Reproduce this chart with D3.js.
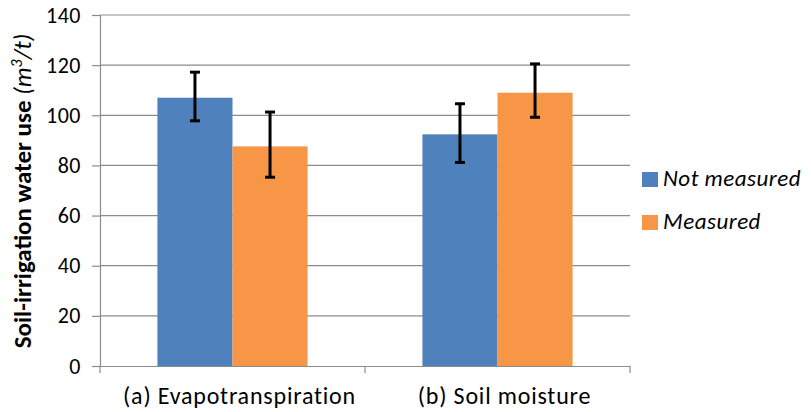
<!DOCTYPE html>
<html><head><meta charset="utf-8">
<script src="https://cdn.jsdelivr.net/npm/d3@7"></script>
<style>body{margin:0;background:#fff;} svg{display:block;}</style>
</head><body>
<svg id="c" width="811" height="412"></svg>
<script>
const categories = ["(a) Evapotranspiration", "(b) Soil moisture"];
const seriesNames = ["Not measured", "Measured"];
const notMeasured = [107.0, 92.4];
const measured = [87.6, 109.0];
const notMeasuredHigh = [117.2, 104.6];
const notMeasuredLow = [97.8, 81.2];
const measuredHigh = [101.3, 120.5];
const measuredLow = [75.3, 99.2];
const yTicks = [0, 20, 40, 60, 80, 100, 120, 140];
const colors = ["#4F81BD", "#F79646"];

const font = "Carlito, 'Open Sans', 'Noto Sans', sans-serif";
const svg = d3.select("#c");
const L = 100, R = 630, T = 15, B = 366;
const x = d3.scaleBand().domain(categories).range([L, R]).paddingInner(0).paddingOuter(0);
const y = d3.scaleLinear().domain([0, 140]).range([B, T]);
const sub = d3.scaleBand().domain(seriesNames).range([0, x.bandwidth()]).paddingOuter(0.765).paddingInner(0);

// gridlines
svg.append("g").selectAll("line").data(yTicks.filter(d => d > 0)).join("line")
  .attr("x1", L).attr("x2", R).attr("y1", d => y(d)).attr("y2", d => y(d))
  .attr("stroke", "#8c8c8c").attr("stroke-width", 1.2);

// y axis
const ya = svg.append("g").attr("transform", `translate(${L},0)`)
  .call(d3.axisLeft(y).tickValues(yTicks).tickSize(8).tickPadding(11));
ya.select(".domain").attr("stroke", "#8c8c8c").attr("stroke-width", 1.2);
ya.selectAll(".tick line").attr("stroke", "#8c8c8c").attr("stroke-width", 1.2);
ya.selectAll(".tick text").attr("font-family", font).attr("font-size", 22)
  .attr("letter-spacing", 0.5).attr("fill", "#000");

// bars
const data = categories.map((c, i) => ({
  c, vals: [
    {s: seriesNames[0], v: notMeasured[i], hi: notMeasuredHigh[i], lo: notMeasuredLow[i], col: colors[0]},
    {s: seriesNames[1], v: measured[i], hi: measuredHigh[i], lo: measuredLow[i], col: colors[1]}
  ]}));
const g = svg.append("g").selectAll("g").data(data).join("g")
  .attr("transform", d => `translate(${x(d.c)},0)`);
g.selectAll("rect").data(d => d.vals).join("rect")
  .attr("x", d => sub(d.s)).attr("width", sub.bandwidth())
  .attr("y", d => y(d.v)).attr("height", d => y(0) - y(d.v))
  .attr("fill", d => d.col);
// error bars
const eb = g.selectAll("g.eb").data(d => d.vals).join("g").attr("class", "eb")
  .attr("transform", d => `translate(${sub(d.s) + sub.bandwidth() / 2},0)`);
eb.append("line").attr("x1", 0).attr("x2", 0).attr("y1", d => y(d.hi)).attr("y2", d => y(d.lo))
  .attr("stroke", "#000").attr("stroke-width", 3);
eb.append("line").attr("x1", -5).attr("x2", 5).attr("y1", d => y(d.hi)).attr("y2", d => y(d.hi))
  .attr("stroke", "#000").attr("stroke-width", 3);
eb.append("line").attr("x1", -5).attr("x2", 5).attr("y1", d => y(d.lo)).attr("y2", d => y(d.lo))
  .attr("stroke", "#000").attr("stroke-width", 3);

// x axis
const xa = svg.append("g").attr("transform", `translate(0,${B})`)
  .call(d3.axisBottom(x).tickSize(0).tickPadding(21));
xa.select(".domain").attr("stroke", "#8c8c8c").attr("stroke-width", 1.2);
xa.selectAll(".tick text").attr("font-family", font).attr("font-size", 24)
  .attr("letter-spacing", 0.8).attr("dx", 7).attr("fill", "#000");
svg.append("g").selectAll("line").data([L, x(categories[1]), R]).join("line")
  .attr("x1", d => d).attr("x2", d => d).attr("y1", B).attr("y2", B + 7)
  .attr("stroke", "#8c8c8c").attr("stroke-width", 1.2);

// y title
const yt = svg.append("text").attr("transform", "translate(31,191) rotate(-90)")
  .attr("text-anchor", "middle").attr("font-family", font).attr("font-size", 25).attr("fill", "#000");
yt.append("tspan").attr("font-weight", "bold").text("Soil-irrigation water use ");
yt.append("tspan").attr("font-style", "italic").text("(m");
yt.append("tspan").attr("font-style", "italic").attr("font-size", 16).attr("dy", -9).text("3");
yt.append("tspan").attr("font-style", "italic").attr("dy", 9).text("/t)");

// legend
const lg = svg.append("g").selectAll("g").data(seriesNames).join("g")
  .attr("transform", (d, i) => `translate(642,${172 + i * 43})`);
lg.append("rect").attr("width", 16).attr("height", 15).attr("fill", (d, i) => colors[i]);
lg.append("text").attr("x", 21).attr("y", 14).attr("font-family", font).attr("font-size", 23)
  .attr("letter-spacing", 0.5).attr("font-style", "italic").attr("fill", "#000").text(d => d);
</script>
</body></html>
